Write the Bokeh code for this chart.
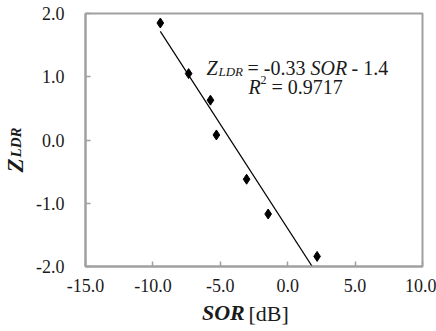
import numpy as np
from bokeh.plotting import figure
from bokeh.models import Label, FixedTicker, NumeralTickFormatter, Range1d, LinearAxis
from bokeh.embed import file_html
from bokeh.resources import INLINE

# ---- data ----
sor = [-9.45, -7.35, -5.73, -5.29, -3.05, -1.45, 2.18]
zldr = [1.85, 1.05, 0.63, 0.08, -0.62, -1.17, -1.84]
slope = -0.33
intercept = -1.4
r2 = 0.9717
x_ticks = [-15, -10, -5, 0, 5, 10]
y_ticks = [-2, -1, 0, 1, 2]
x_title = ["SOR", "[dB]"]
y_title = ["Z", "LDR"]

FONT = "Liberation Serif"
TXT = "#1a1a1a"
GRAY = "#a0a0a0"
X0, X1, Y0, Y1 = -15, 10, -2, 2

p = figure(width=436, height=331, output_backend="svg", toolbar_location=None,
           x_range=Range1d(X0, X1), y_range=Range1d(Y0, Y1),
           min_border_left=84, min_border_right=14, min_border_top=13, min_border_bottom=65)
p.background_fill_color = "white"
p.border_fill_color = "white"
p.outline_line_color = GRAY
p.outline_line_width = 2
p.xgrid.visible = False
p.ygrid.visible = False

for ax in (p.xaxis[0], p.yaxis[0]):
    ax.axis_line_color = GRAY
    ax.axis_line_width = 2
    ax.major_tick_line_color = GRAY
    ax.major_tick_line_width = 1.5
    ax.major_tick_in = 5
    ax.major_tick_out = 0
    ax.minor_tick_line_color = None
    ax.major_label_text_font = FONT
    ax.major_label_text_font_size = "18px"
    ax.major_label_text_color = TXT
    ax.formatter = NumeralTickFormatter(format="0.0")

p.xaxis[0].ticker = FixedTicker(ticks=x_ticks)
p.yaxis[0].ticker = FixedTicker(ticks=y_ticks)
p.xaxis[0].major_label_standoff = 12
p.yaxis[0].major_label_standoff = 21

# trend line
xl = np.array([min(sor), max(sor)])
p.line(xl, slope * xl + intercept, line_color="black", line_width=1.2)

# points
p.scatter(sor, zldr, marker="diamond", size=10, fill_color="black", line_color="black")


# ---- helpers for placing title text (pixel -> data along the frame) ----
FL, FR, FT, FB = 84, 419, 13, 266


def px_x(px):
    return round(X0 + (px - FL) / (FR - FL) * (X1 - X0), 3)


def px_y(py):
    return round(Y1 - (py - FT) / (FB - FT) * (Y1 - Y0), 3)


def title_axis(side, pos, text, size, style, standoff, orient="horizontal"):
    ax = LinearAxis(ticker=FixedTicker(ticks=[pos]), major_label_overrides={pos: text})
    ax.axis_line_color = None
    ax.major_tick_line_color = None
    ax.minor_tick_line_color = None
    ax.major_tick_in = 0
    ax.major_tick_out = 0
    ax.major_label_text_font = FONT
    ax.major_label_text_font_size = f"{size}px"
    ax.major_label_text_font_style = style
    ax.major_label_text_color = TXT
    ax.major_label_standoff = standoff
    ax.major_label_orientation = orient
    p.add_layout(ax, side)


# x-axis title: SOR (bold italic) [dB] (regular) on one line
title_axis("below", px_x(221), x_title[0], 22, "bold italic", 5)
title_axis("below", px_x(266), x_title[1], 22, "normal", -27)
# y-axis title: Z with subscript LDR, reading upwards
title_axis("left", px_y(165), y_title[0], 23, "bold italic", 5, "vertical")
title_axis("left", px_y(142), y_title[1], 15, "bold italic", -24, "vertical")


def lab(text, x, y, size, style="normal"):
    p.add_layout(Label(x=x, y=y, x_units="screen", y_units="screen", text=text,
                       text_font=FONT, text_font_size=f"{size}px", text_font_style=style,
                       text_color=TXT, text_align="left", text_baseline="alphabetic"))


# equation annotation (x from frame left, y up from frame bottom)
lab("Z", 121, 199, 20, "italic")
lab("LDR", 133, 195, 13, "italic")
lab(f"= {slope:.2f}", 162, 199, 20)
lab("SOR", 225, 199, 20, "italic")
lab(f"- {-intercept:.1f}", 266, 199, 20)
lab("R", 163, 180, 20, "italic")
lab("2", 175, 187, 12)
lab(f"= {r2:.4f}", 186, 180, 20)

open("out.html", "w").write(file_html(p, INLINE))
